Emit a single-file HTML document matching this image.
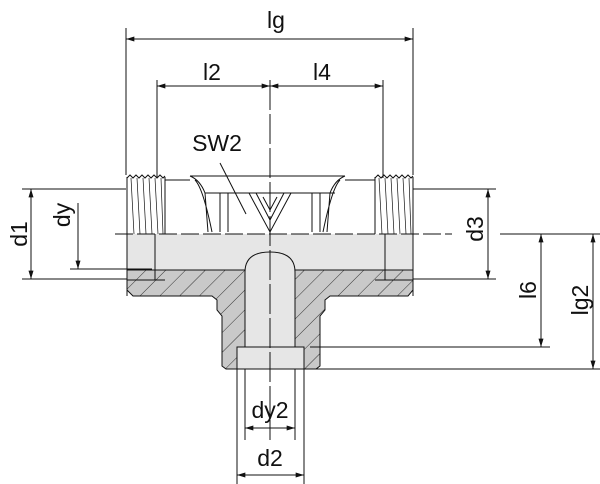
<!DOCTYPE html>
<html><head><meta charset="utf-8"><style>
html,body{margin:0;padding:0;background:#fff;}
svg{display:block}
text{font-family:"Liberation Sans",sans-serif;fill:#111;}
</style></head><body>
<svg width="600" height="484" viewBox="0 0 600 484" xmlns="http://www.w3.org/2000/svg">
<defs>
<pattern id="h" width="14" height="14" patternUnits="userSpaceOnUse" patternTransform="rotate(45)">
<rect width="14" height="14" fill="#c9c9c9"/><line x1="0" y1="0" x2="0" y2="14" stroke="#333" stroke-width="1"/>
</pattern>
<marker id="a" viewBox="0 0 10 6" refX="10" refY="3" markerWidth="10" markerHeight="5" orient="auto-start-reverse" markerUnits="userSpaceOnUse"><path d="M0,0L10,3L0,6z" fill="#111"/></marker>
</defs>
<g stroke="#111" stroke-width="1" fill="none">
<!-- gray band -->
<rect x="127" y="234" width="286" height="36" fill="#e6e6e6" stroke="none"/>
<!-- hatched section -->
<path d="M127,270 H413 V290 L408,296 H330 L325,300 V310 L320,316 V366 L316,369 H226 L222,366 V316 L217,310 V300 L212,296 H133 L127,290 Z" fill="url(#h)"/>
<!-- bore -->
<path d="M245,369 V272 Q245,252 270,252 Q295,252 295,272 V369 Z" fill="#e6e6e6"/>
<rect x="237" y="347" width="67" height="22" fill="#e6e6e6"/>
<line x1="155" y1="234" x2="155" y2="280"/><line x1="385" y1="234" x2="385" y2="280"/>
<line x1="127" y1="280" x2="165" y2="280"/><line x1="375" y1="280" x2="413" y2="280"/>
<!-- threads -->
<path d="M127,177 V296 M165,177 V234 M413,177 V296 M375,177 V234"/>
<path d="M127,178 L130,175 L133,178 L136,175 L139,178 L142,175 L145,178 L148,175 L151,178 L154,175 L157,178 L160,175 L163,178 L165,176"/>
<path d="M375,178 L378,175 L381,178 L384,175 L387,178 L390,175 L393,178 L396,175 L399,178 L402,175 L405,178 L408,175 L411,178 L413,176"/>
<g stroke-width="0.7"><path d="M131,178 L134,234 M137,178 L140,234 M143,178 L146,234 M149,178 L152,234 M155,178 L158,234 M161,178 L163,234 M379,178 L382,234 M385,178 L388,234 M391,178 L394,234 M397,178 L400,234 M403,178 L406,234 M409,178 L411,234"/></g>
<!-- hex body -->
<path d="M165,180 H190 M345,180 H375"/>
<path d="M190,176 H345 M190,176 Q200,180 205,193 L208,232 M345,176 Q335,180 330,193 L327,232 M195,180 Q203,188 212,232 M340,180 Q332,188 323,232"/>
<path d="M205,193 H335 M220,193 V232 M228,193 V232 M312,193 V232 M320,193 V232"/>
<path d="M249,193 L270,232 L291,193 M256,193 L270,220 L284,193 M263,197 L270,210 L277,197"/>
<!-- centre lines -->
<line x1="115" y1="234" x2="452" y2="234" stroke-dasharray="18,4"/>
<line x1="270" y1="80" x2="270" y2="440" stroke-dasharray="30,4"/>
<!-- dimension lg -->
<line x1="126" y1="28" x2="126" y2="175"/><line x1="413" y1="28" x2="413" y2="175"/>
<line x1="126" y1="39" x2="413" y2="39" marker-start="url(#a)" marker-end="url(#a)"/>
<line x1="157" y1="80" x2="157" y2="178"/><line x1="383" y1="80" x2="383" y2="178"/>
<line x1="157" y1="86" x2="270" y2="86" marker-start="url(#a)" marker-end="url(#a)"/>
<line x1="270" y1="86" x2="383" y2="86" marker-start="url(#a)" marker-end="url(#a)"/>
<line x1="220" y1="163" x2="246" y2="214"/>
<!-- d1, dy -->
<line x1="22" y1="189" x2="126" y2="189"/><line x1="22" y1="279" x2="127" y2="279"/>
<line x1="31" y1="189" x2="31" y2="279" marker-start="url(#a)" marker-end="url(#a)"/>
<line x1="70" y1="269" x2="152" y2="269"/>
<line x1="78" y1="203" x2="78" y2="269" marker-end="url(#a)"/>
<!-- d3 -->
<line x1="413" y1="189" x2="496" y2="189"/><line x1="413" y1="279" x2="496" y2="279"/>
<line x1="488" y1="189" x2="488" y2="279" marker-start="url(#a)" marker-end="url(#a)"/>
<!-- l6, lg2 -->
<line x1="500" y1="234" x2="600" y2="234"/>
<line x1="310" y1="347" x2="550" y2="347"/><line x1="310" y1="369" x2="600" y2="369"/>
<line x1="541" y1="234" x2="541" y2="347" marker-start="url(#a)" marker-end="url(#a)"/>
<line x1="593" y1="234" x2="593" y2="369" marker-start="url(#a)" marker-end="url(#a)"/>
<!-- dy2, d2 -->
<line x1="245" y1="369" x2="245" y2="440"/><line x1="295" y1="369" x2="295" y2="440"/>
<line x1="237" y1="369" x2="237" y2="484"/><line x1="304" y1="369" x2="304" y2="484"/>
<line x1="245" y1="428" x2="295" y2="428" marker-start="url(#a)" marker-end="url(#a)"/>
<line x1="237" y1="475" x2="304" y2="475" marker-start="url(#a)" marker-end="url(#a)"/>
</g>
<g font-size="23">
<text x="276" y="28" text-anchor="middle">lg</text>
<text x="212" y="80" text-anchor="middle">l2</text>
<text x="322" y="80" text-anchor="middle">l4</text>
<text x="217" y="151" text-anchor="middle">SW2</text>
<text x="270" y="418" text-anchor="middle">dy2</text>
<text x="270" y="466" text-anchor="middle">d2</text>
<text transform="translate(27,234) rotate(-90)" text-anchor="middle">d1</text>
<text transform="translate(70,215) rotate(-90)" text-anchor="middle">dy</text>
<text transform="translate(483,229) rotate(-90)" text-anchor="middle">d3</text>
<text transform="translate(536,290) rotate(-90)" text-anchor="middle">l6</text>
<text transform="translate(588,300) rotate(-90)" text-anchor="middle">lg2</text>
</g>
</svg>
</body></html>
